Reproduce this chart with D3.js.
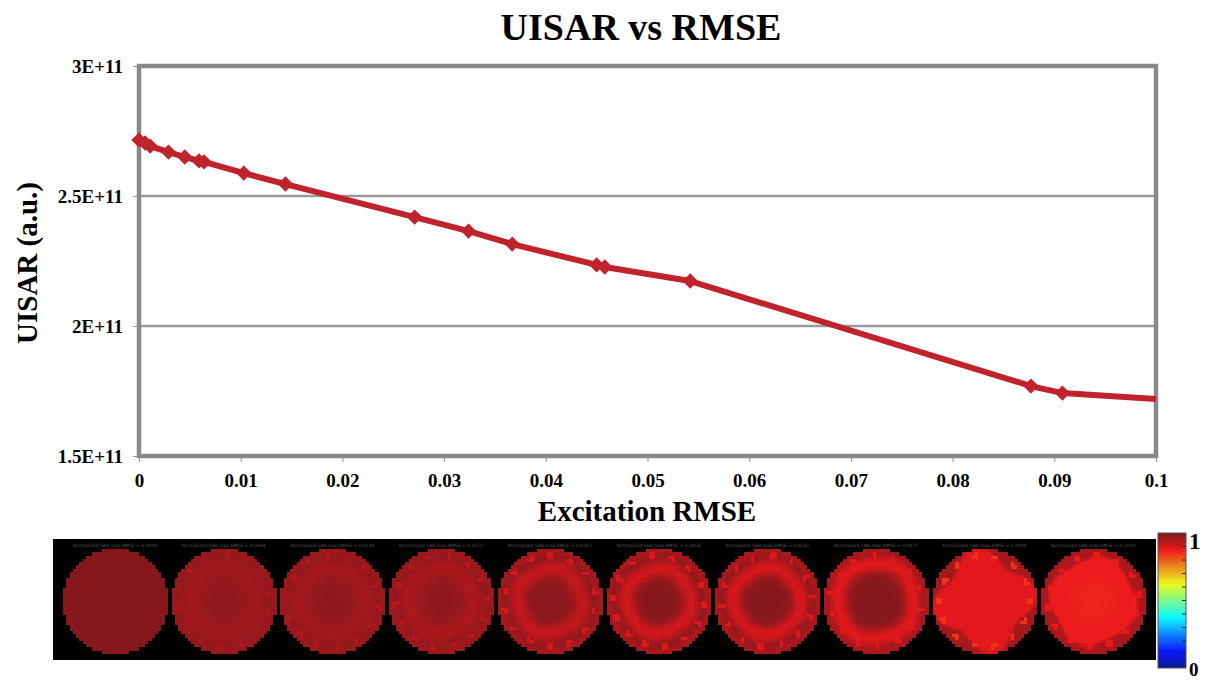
<!DOCTYPE html>
<html>
<head>
<meta charset="utf-8">
<script src="https://cdn.jsdelivr.net/npm/d3@7"></script>
<style>
  body { margin: 0; background: #fff; }
  svg { display: block; }
</style>
</head>
<body>
<svg id="chart" width="1207" height="682"></svg>
<script>
// ---- data ----
const rmse  = [0.0000, 0.0006, 0.0011, 0.0029, 0.0045, 0.0059, 0.0064, 0.0103, 0.0144,
               0.0271, 0.0324, 0.0367, 0.0450, 0.0458, 0.0542, 0.0877, 0.0908];
const uisar = [2.715e11, 2.704e11, 2.692e11, 2.669e11, 2.650e11, 2.635e11, 2.631e11, 2.588e11, 2.546e11,
               2.419e11, 2.365e11, 2.315e11, 2.235e11, 2.227e11, 2.173e11, 1.769e11, 1.742e11];
// line continues to the right edge of the axis
const tailRmse = 0.1;
const tailUisar = 1.719e11;

const xTicks = [0, 0.01, 0.02, 0.03, 0.04, 0.05, 0.06, 0.07, 0.08, 0.09, 0.1];
const xTickLabels = ["0", "0.01", "0.02", "0.03", "0.04", "0.05", "0.06", "0.07", "0.08", "0.09", "0.1"];
const yTicks = [1.5e11, 2e11, 2.5e11, 3e11];
const yTickLabels = ["1.5E+11", "2E+11", "2.5E+11", "3E+11"];

// map panels: per-panel shape parameters (normalised colour values 0..1)
const panelRmse   = ["0.0000", "0.0064", "0.0144", "0.0271", "0.0367", "0.0458", "0.0542", "0.0877", "0.0908", "0.1000"];
const panelCore   = [0.990, 0.975, 0.978, 0.978, 0.985, 0.990, 0.990, 0.990, 0.885, 0.858];
const panelRing   = [0.990, 0.960, 0.955, 0.948, 0.920, 0.905, 0.900, 0.888, 0.885, 0.872];
const panelRingR  = [0.60, 0.62, 0.62, 0.62, 0.62, 0.62, 0.64, 0.74, 0.50, 0.60];
const panelRingW  = [0.20, 0.18, 0.18, 0.18, 0.17, 0.17, 0.17, 0.18, 0.60, 0.35];
const panelRim    = [0.990, 0.970, 0.965, 0.965, 0.955, 0.950, 0.950, 0.950, 0.955, 0.950];
const panelRimR   = [0.95, 0.88, 0.88, 0.86, 0.86, 0.86, 0.86, 0.88, 0.84, 0.78];
const panelLobe   = [0.00, 0.00, 0.00, 0.02, 0.04, 0.03, 0.03, 0.03, 0.16, 0.06];
const panelPhase  = [0.0, 0.0, 0.0, 0.3, 0.4, 0.3, 0.2, 0.6, -0.17, 0.3];
const panelSpeck  = [0.990, 0.955, 0.945, 0.935, 0.905, 0.895, 0.895, 0.890, 0.845, 0.880];

const colorbarTicks = [0.1, 0.2, 0.3, 0.4, 0.5, 0.6, 0.7, 0.8, 0.9];

// ---- layout ----
const svg = d3.select("#chart");
const plot = { left: 139, right: 1156, top: 66, bottom: 456 };
const serif = "'Liberation Serif', 'Times New Roman', serif";
const lineColor = "#c0232b";
const axisGray = "#898989";

const x = d3.scaleLinear().domain([0, 0.1]).range([plot.left, plot.right]);
const y = d3.scaleLinear().domain([1.5e11, 3e11]).range([plot.bottom, plot.top]);

// title
svg.append("text")
  .attr("x", 641).attr("y", 40)
  .attr("text-anchor", "middle")
  .attr("font-family", serif).attr("font-weight", "bold").attr("font-size", 38)
  .text("UISAR vs RMSE");

// gridlines
svg.append("g").selectAll("line")
  .data(yTicks.slice(1, -1)).join("line")
  .attr("x1", plot.left).attr("x2", plot.right)
  .attr("y1", d => y(d)).attr("y2", d => y(d))
  .attr("stroke", "#9a9a9a").attr("stroke-width", 2.5);

// y axis ticks + labels
const yAxis = d3.axisLeft(y).tickValues(yTicks)
  .tickFormat((d, i) => yTickLabels[i]).tickSize(6).tickPadding(10);
const gy = svg.append("g").attr("transform", `translate(${plot.left},0)`).call(yAxis);
gy.select(".domain").remove();
gy.selectAll(".tick line").attr("stroke", "#999").attr("stroke-width", 1);
gy.selectAll(".tick text")
  .attr("font-family", serif).attr("font-weight", "bold").attr("font-size", 19)
  .attr("fill", "#000");

// x axis ticks + labels
const xAxis = d3.axisBottom(x).tickValues(xTicks)
  .tickFormat((d, i) => xTickLabels[i]).tickSize(6).tickPadding(12);
const gx = svg.append("g").attr("transform", `translate(0,${plot.bottom})`).call(xAxis);
gx.select(".domain").remove();
gx.selectAll(".tick line").attr("stroke", "#999").attr("stroke-width", 1);
gx.selectAll(".tick text")
  .attr("font-family", serif).attr("font-weight", "bold").attr("font-size", 19)
  .attr("fill", "#000");

// plot frame
svg.append("rect")
  .attr("x", plot.left).attr("y", plot.top)
  .attr("width", plot.right - plot.left).attr("height", plot.bottom - plot.top)
  .attr("fill", "none").attr("stroke", axisGray).attr("stroke-width", 4.5);

// axis titles
svg.append("text")
  .attr("x", 647).attr("y", 521)
  .attr("text-anchor", "middle")
  .attr("font-family", serif).attr("font-weight", "bold").attr("font-size", 29)
  .text("Excitation RMSE");

svg.append("text")
  .attr("transform", "translate(37,263) rotate(-90)")
  .attr("text-anchor", "middle")
  .attr("font-family", serif).attr("font-weight", "bold").attr("font-size", 29)
  .text("UISAR (a.u.)");

// series line
const pts = rmse.map((d, i) => [d, uisar[i]]).concat([[tailRmse, tailUisar]]);
const line = d3.line().x(d => x(d[0])).y(d => y(d[1]));
svg.append("path")
  .attr("d", line(pts))
  .attr("fill", "none").attr("stroke", lineColor)
  .attr("stroke-width", 6).attr("stroke-linejoin", "round");

// diamond markers
const diamond = d3.symbol().type(d3.symbolDiamond2).size(150);
svg.append("g").selectAll("path")
  .data(rmse.map((d, i) => [d, uisar[i]])).join("path")
  .attr("transform", d => `translate(${x(d[0])},${y(d[1])})`)
  .attr("d", diamond)
  .attr("fill", lineColor);

// ---- map strip ----
function jet(t) {
  const c = v => Math.max(0, Math.min(1, v));
  return [c(1.5 - Math.abs(4 * t - 3)), c(1.5 - Math.abs(4 * t - 2)), c(1.5 - Math.abs(4 * t - 1))];
}
function mapColor(t) {
  const [r, g, b] = jet(t);
  return d3.rgb(r * 225 + 12, g * 225 + 24, b * 225 + 28).toString();
}

const strip = { x: 53, y: 539, w: 1103, h: 121 };
svg.append("rect")
  .attr("x", strip.x).attr("y", strip.y).attr("width", strip.w).attr("height", strip.h)
  .attr("fill", "#000");

const nCells = 32;
const cellSize = 3.25;
const half = nCells / 2;
const panelCx = i => 115 + i * 108.7;
const panelCy = 601;

function cellValue(p, gx, gy) {
  const dx = gx + 0.5 - half, dy = gy + 0.5 - half;
  const r = Math.sqrt(dx * dx + dy * dy) / half;
  const th = Math.atan2(dy, dx);
  const re = r / (1 + panelLobe[p] * Math.cos(4 * (th - panelPhase[p])));
  let v = panelCore[p] + (panelRing[p] - panelCore[p]) *
          Math.exp(-Math.pow((re - panelRingR[p]) / panelRingW[p], 2));
  const t = Math.max(0, Math.min(1, (re - panelRimR[p]) / 0.08));
  v = v * (1 - t) + panelRim[p] * t;
  // bright pixels scattered along the outer edge
  if (r > 0.82 && r <= 0.92) {
    const k = Math.round((th + Math.PI) / (2 * Math.PI) * 14 + p * 0.37);
    const ang = (k - p * 0.37) / 14 * 2 * Math.PI - Math.PI;
    if (Math.abs(ang - th) < 0.06) v = panelSpeck[p];
  }
  return v;
}

const cells = [];
for (let p = 0; p < 10; p++) {
  for (let gyi = 0; gyi < nCells; gyi++) {
    for (let gxi = 0; gxi < nCells; gxi++) {
      const dx = gxi + 0.5 - half, dy = gyi + 0.5 - half;
      if (Math.sqrt(dx * dx + dy * dy) <= half) {
        cells.push({ p, gx: gxi, gy: gyi, v: cellValue(p, gxi, gyi) });
      }
    }
  }
}

svg.append("g").attr("shape-rendering", "crispEdges").selectAll("rect")
  .data(cells).join("rect")
  .attr("x", d => panelCx(d.p) - half * cellSize + d.gx * cellSize)
  .attr("y", d => panelCy - half * cellSize + d.gy * cellSize)
  .attr("width", cellSize + 0.8).attr("height", cellSize + 0.8)
  .attr("fill", d => mapColor(d.v));

// small captions above each map
svg.append("g").selectAll("text")
  .data(panelRmse).join("text")
  .attr("x", (d, i) => panelCx(i))
  .attr("y", 547)
  .attr("text-anchor", "middle")
  .attr("font-family", "'DejaVu Sans', sans-serif").attr("font-size", 4.5)
  .attr("fill", "#555")
  .text(d => `Normalized SAR map    RMSE = ${d}`);

// ---- colour bar ----
const cb = { x: 1158, y: 533, w: 28, h: 135 };
const cbScale = d3.scaleLinear().domain([0, 1]).range([cb.y + cb.h, cb.y]);
const defs = svg.append("defs");
const grad = defs.append("linearGradient").attr("id", "jetGrad")
  .attr("x1", 0).attr("y1", 1).attr("x2", 0).attr("y2", 0);
grad.selectAll("stop")
  .data(d3.range(0, 1.0001, 0.02)).join("stop")
  .attr("offset", d => d)
  .attr("stop-color", d => mapColor(d));
svg.append("rect")
  .attr("x", cb.x).attr("y", cb.y).attr("width", cb.w).attr("height", cb.h)
  .attr("fill", "url(#jetGrad)").attr("stroke", "#555").attr("stroke-width", 1);
svg.append("g").selectAll("line")
  .data(colorbarTicks).join("line")
  .attr("x1", cb.x + cb.w - 4).attr("x2", cb.x + cb.w)
  .attr("y1", d => cbScale(d)).attr("y2", d => cbScale(d))
  .attr("stroke", "#333").attr("stroke-width", 1);
svg.append("text")
  .attr("x", 1189).attr("y", 549)
  .attr("font-family", serif).attr("font-weight", "bold").attr("font-size", 23)
  .text("1");
svg.append("text")
  .attr("x", 1189).attr("y", 676)
  .attr("font-family", serif).attr("font-weight", "bold").attr("font-size", 19)
  .text("0");
</script>
</body>
</html>
